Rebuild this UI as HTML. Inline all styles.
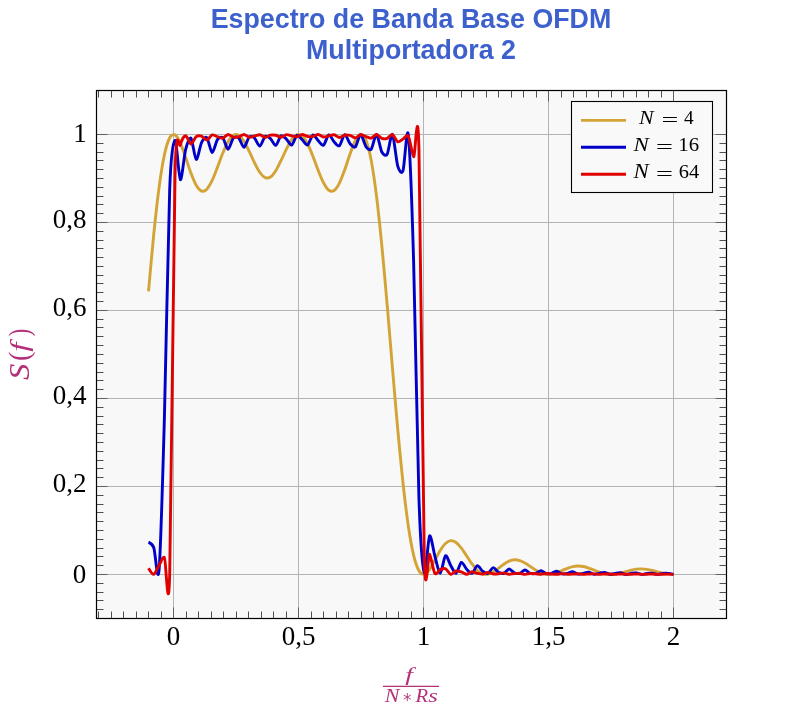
<!DOCTYPE html>
<html><head><meta charset="utf-8"><style>
html,body{margin:0;padding:0;background:#fff;width:794px;height:711px;overflow:hidden;}
svg{display:block;will-change:transform;}
</style></head><body>
<svg width="794" height="711" viewBox="0 0 794 711">
<rect x="96.5" y="90.5" width="630.0" height="528.0" fill="#f8f8f8"/>
<path d="M173.50,90.5V618.5M298.50,90.5V618.5M423.50,90.5V618.5M548.50,90.5V618.5M673.50,90.5V618.5M96.5,574.5H726.5M96.5,486.5H726.5M96.5,398.5H726.5M96.5,310.5H726.5M96.5,222.5H726.5M96.5,134.5H726.5" stroke="#b4b4b4" stroke-width="1" fill="none"/>
<path d="M98.50,618.5v-7.0M98.50,90.5v7.0M111.50,618.5v-7.0M111.50,90.5v7.0M123.50,618.5v-7.0M123.50,90.5v7.0M136.50,618.5v-7.0M136.50,90.5v7.0M148.50,618.5v-7.0M148.50,90.5v7.0M161.50,618.5v-7.0M161.50,90.5v7.0M186.50,618.5v-7.0M186.50,90.5v7.0M198.50,618.5v-7.0M198.50,90.5v7.0M211.50,618.5v-7.0M211.50,90.5v7.0M223.50,618.5v-7.0M223.50,90.5v7.0M236.50,618.5v-7.0M236.50,90.5v7.0M248.50,618.5v-7.0M248.50,90.5v7.0M261.50,618.5v-7.0M261.50,90.5v7.0M273.50,618.5v-7.0M273.50,90.5v7.0M286.50,618.5v-7.0M286.50,90.5v7.0M311.50,618.5v-7.0M311.50,90.5v7.0M323.50,618.5v-7.0M323.50,90.5v7.0M336.50,618.5v-7.0M336.50,90.5v7.0M348.50,618.5v-7.0M348.50,90.5v7.0M361.50,618.5v-7.0M361.50,90.5v7.0M373.50,618.5v-7.0M373.50,90.5v7.0M386.50,618.5v-7.0M386.50,90.5v7.0M398.50,618.5v-7.0M398.50,90.5v7.0M411.50,618.5v-7.0M411.50,90.5v7.0M436.50,618.5v-7.0M436.50,90.5v7.0M448.50,618.5v-7.0M448.50,90.5v7.0M461.50,618.5v-7.0M461.50,90.5v7.0M473.50,618.5v-7.0M473.50,90.5v7.0M486.50,618.5v-7.0M486.50,90.5v7.0M498.50,618.5v-7.0M498.50,90.5v7.0M511.50,618.5v-7.0M511.50,90.5v7.0M523.50,618.5v-7.0M523.50,90.5v7.0M536.50,618.5v-7.0M536.50,90.5v7.0M561.50,618.5v-7.0M561.50,90.5v7.0M573.50,618.5v-7.0M573.50,90.5v7.0M586.50,618.5v-7.0M586.50,90.5v7.0M598.50,618.5v-7.0M598.50,90.5v7.0M611.50,618.5v-7.0M611.50,90.5v7.0M623.50,618.5v-7.0M623.50,90.5v7.0M636.50,618.5v-7.0M636.50,90.5v7.0M648.50,618.5v-7.0M648.50,90.5v7.0M661.50,618.5v-7.0M661.50,90.5v7.0M96.5,609.50h7.0M726.5,609.50h-7.0M96.5,600.50h7.0M726.5,600.50h-7.0M96.5,592.50h7.0M726.5,592.50h-7.0M96.5,583.50h7.0M726.5,583.50h-7.0M96.5,565.50h7.0M726.5,565.50h-7.0M96.5,556.50h7.0M726.5,556.50h-7.0M96.5,548.50h7.0M726.5,548.50h-7.0M96.5,539.50h7.0M726.5,539.50h-7.0M96.5,530.50h7.0M726.5,530.50h-7.0M96.5,521.50h7.0M726.5,521.50h-7.0M96.5,512.50h7.0M726.5,512.50h-7.0M96.5,504.50h7.0M726.5,504.50h-7.0M96.5,495.50h7.0M726.5,495.50h-7.0M96.5,477.50h7.0M726.5,477.50h-7.0M96.5,468.50h7.0M726.5,468.50h-7.0M96.5,460.50h7.0M726.5,460.50h-7.0M96.5,451.50h7.0M726.5,451.50h-7.0M96.5,442.50h7.0M726.5,442.50h-7.0M96.5,433.50h7.0M726.5,433.50h-7.0M96.5,424.50h7.0M726.5,424.50h-7.0M96.5,416.50h7.0M726.5,416.50h-7.0M96.5,407.50h7.0M726.5,407.50h-7.0M96.5,389.50h7.0M726.5,389.50h-7.0M96.5,380.50h7.0M726.5,380.50h-7.0M96.5,372.50h7.0M726.5,372.50h-7.0M96.5,363.50h7.0M726.5,363.50h-7.0M96.5,354.50h7.0M726.5,354.50h-7.0M96.5,345.50h7.0M726.5,345.50h-7.0M96.5,336.50h7.0M726.5,336.50h-7.0M96.5,327.50h7.0M726.5,327.50h-7.0M96.5,319.50h7.0M726.5,319.50h-7.0M96.5,301.50h7.0M726.5,301.50h-7.0M96.5,292.50h7.0M726.5,292.50h-7.0M96.5,283.50h7.0M726.5,283.50h-7.0M96.5,275.50h7.0M726.5,275.50h-7.0M96.5,266.50h7.0M726.5,266.50h-7.0M96.5,257.50h7.0M726.5,257.50h-7.0M96.5,248.50h7.0M726.5,248.50h-7.0M96.5,240.50h7.0M726.5,240.50h-7.0M96.5,231.50h7.0M726.5,231.50h-7.0M96.5,213.50h7.0M726.5,213.50h-7.0M96.5,204.50h7.0M726.5,204.50h-7.0M96.5,196.50h7.0M726.5,196.50h-7.0M96.5,187.50h7.0M726.5,187.50h-7.0M96.5,178.50h7.0M726.5,178.50h-7.0M96.5,169.50h7.0M726.5,169.50h-7.0M96.5,160.50h7.0M726.5,160.50h-7.0M96.5,152.50h7.0M726.5,152.50h-7.0M96.5,143.50h7.0M726.5,143.50h-7.0" stroke="#505050" stroke-width="1" fill="none"/>
<path d="M173.50,618.5v-11M173.50,90.5v11M298.50,618.5v-11M298.50,90.5v11M423.50,618.5v-11M423.50,90.5v11M548.50,618.5v-11M548.50,90.5v11M673.50,618.5v-11M673.50,90.5v11M96.5,574.5h11M726.5,574.5h-11M96.5,486.5h11M726.5,486.5h-11M96.5,398.5h11M726.5,398.5h-11M96.5,310.5h11M726.5,310.5h-11M96.5,222.5h11M726.5,222.5h-11M96.5,134.5h11M726.5,134.5h-11" stroke="#606060" stroke-width="1" fill="none"/>
<path d="M148.50,291.31C148.50,291.31 152.33,248.40 153.80,233.97C155.27,219.54 157.63,198.29 159.11,187.30C160.58,176.32 162.94,161.69 164.41,154.81C165.88,147.93 168.24,140.49 169.71,137.73C171.18,134.96 173.54,134.15 175.02,134.88C176.49,135.62 178.85,139.88 180.32,143.01C181.79,146.13 184.15,153.26 185.62,157.42C187.09,161.58 189.45,169.15 190.92,173.02C192.40,176.88 194.76,182.76 196.23,185.26C197.70,187.76 200.06,190.50 201.53,191.04C203.00,191.58 205.36,190.63 206.83,189.16C208.30,187.69 210.66,183.47 212.14,180.45C213.61,177.42 215.97,171.12 217.44,167.35C218.91,163.58 221.27,156.84 222.74,153.28C224.21,149.71 226.57,144.18 228.05,141.68C229.52,139.17 231.88,136.12 233.35,135.23C234.82,134.33 237.18,134.38 238.65,135.21C240.12,136.05 242.48,138.99 243.95,141.24C245.43,143.49 247.79,148.43 249.26,151.43C250.73,154.43 253.09,159.97 254.56,162.89C256.03,165.81 258.39,170.44 259.86,172.49C261.34,174.54 263.70,177.03 265.17,177.65C266.64,178.28 269.00,177.97 270.47,177.01C271.94,176.05 274.30,173.02 275.77,170.73C277.24,168.44 279.60,163.50 281.08,160.48C282.55,157.47 284.91,151.94 286.38,149.03C287.85,146.12 290.21,141.51 291.68,139.52C293.15,137.52 295.51,135.14 296.98,134.67C298.46,134.19 300.82,134.82 302.29,136.09C303.76,137.35 306.12,141.01 307.59,143.80C309.06,146.59 311.42,152.51 312.89,156.20C314.37,159.88 316.73,166.68 318.20,170.37C319.67,174.06 322.03,180.04 323.50,182.79C324.97,185.54 327.33,189.14 328.80,190.20C330.27,191.26 332.63,191.42 334.11,190.44C335.58,189.45 337.94,185.96 339.41,183.10C340.88,180.24 343.24,173.85 344.71,169.82C346.18,165.79 348.54,158.12 350.02,154.06C351.49,150.00 353.85,143.29 355.32,140.56C356.79,137.84 359.15,134.49 360.62,134.43C362.09,134.37 364.45,136.50 365.92,140.11C367.40,143.73 369.76,152.70 371.23,160.48C372.70,168.26 375.06,184.40 376.53,196.20C378.00,208.00 380.36,230.49 381.83,245.52C383.30,260.55 385.66,287.55 387.14,304.51C388.61,321.47 390.97,350.44 392.44,367.75C393.91,385.06 396.27,413.20 397.74,429.25C399.21,445.31 401.57,470.02 403.05,483.48C404.52,496.93 406.88,516.27 408.35,526.24C409.82,536.21 412.18,549.16 413.65,555.33C415.12,561.50 417.48,568.08 418.95,570.71C420.43,573.34 422.79,574.48 424.26,574.31C425.73,574.14 428.09,571.44 429.56,569.50C431.03,567.55 433.39,562.92 434.86,560.30C436.34,557.68 438.70,552.94 440.17,550.60C441.64,548.27 444.00,544.84 445.47,543.45C446.94,542.07 449.30,540.76 450.77,540.63C452.24,540.49 454.60,541.44 456.08,542.49C457.55,543.53 459.91,546.29 461.38,548.17C462.85,550.04 465.21,553.78 466.68,555.97C468.15,558.15 470.51,561.93 471.98,563.91C473.46,565.89 475.82,568.86 477.29,570.23C478.76,571.60 481.12,573.22 482.59,573.77C484.06,574.33 486.42,574.46 487.89,574.22C489.37,573.98 491.73,572.86 493.20,572.03C494.67,571.21 497.03,569.35 498.50,568.27C499.97,567.19 502.33,565.23 503.80,564.24C505.27,563.25 507.63,561.76 509.11,561.15C510.58,560.54 512.94,559.91 514.41,559.82C515.88,559.73 518.24,560.09 519.71,560.53C521.18,560.96 523.54,562.15 525.02,562.97C526.49,563.79 528.85,565.46 530.32,566.44C531.79,567.42 534.15,569.12 535.62,570.01C537.09,570.89 539.45,572.22 540.92,572.81C542.40,573.40 544.76,574.07 546.23,574.26C547.70,574.44 550.06,574.37 551.53,574.16C553.00,573.95 555.36,573.24 556.83,572.74C558.30,572.24 560.66,571.17 562.14,570.55C563.61,569.94 565.97,568.84 567.44,568.29C568.91,567.75 571.27,566.94 572.74,566.62C574.21,566.30 576.57,566.00 578.05,565.98C579.52,565.97 581.88,566.23 583.35,566.51C584.82,566.80 587.18,567.53 588.65,568.03C590.12,568.52 592.48,569.52 593.95,570.09C595.43,570.66 597.79,571.65 599.26,572.15C600.73,572.65 603.09,573.38 604.56,573.69C606.03,574.00 608.39,574.32 609.86,574.38C611.34,574.44 613.70,574.30 615.17,574.12C616.64,573.94 619.00,573.42 620.47,573.07C621.94,572.73 624.30,572.01 625.77,571.61C627.24,571.20 629.60,570.51 631.08,570.17C632.55,569.83 634.91,569.34 636.38,569.16C637.85,568.98 640.21,568.84 641.68,568.86C643.15,568.89 645.51,569.11 646.98,569.33C648.46,569.54 650.82,570.07 652.29,570.41C653.76,570.75 656.12,571.42 657.59,571.80C659.06,572.18 661.42,572.82 662.89,573.13C664.37,573.45 666.73,573.89 668.20,574.07C669.67,574.25 673.50,574.40 673.50,574.40" stroke="#d4a336" stroke-width="2.9" fill="none" stroke-linejoin="round"/>
<path d="M148.50,542.14C148.50,542.14 152.33,543.87 153.80,547.68C155.27,551.49 157.63,587.66 159.11,569.59C160.58,551.53 162.94,470.29 164.41,417.47C165.88,364.64 168.24,227.31 169.71,188.87C171.18,150.43 173.54,141.71 175.02,140.43C176.49,139.15 178.85,178.38 180.32,179.66C181.79,180.95 184.15,155.45 185.62,149.69C187.09,143.93 189.45,136.80 190.92,138.15C192.40,139.49 194.76,158.80 196.23,159.41C197.70,160.02 200.06,145.55 201.53,142.55C203.00,139.54 205.36,136.33 206.83,137.72C208.30,139.11 210.66,152.28 212.14,152.55C213.61,152.81 215.97,141.69 217.44,139.63C218.91,137.57 221.27,136.38 222.74,137.71C224.21,139.04 226.57,149.17 228.05,149.21C229.52,149.26 231.88,139.61 233.35,138.03C234.82,136.46 237.18,136.58 238.65,137.87C240.12,139.16 242.48,147.43 243.95,147.31C245.43,147.20 247.79,138.29 249.26,137.02C250.73,135.75 253.09,136.89 254.56,138.16C256.03,139.43 258.39,146.41 259.86,146.16C261.34,145.90 263.70,137.38 265.17,136.32C266.64,135.27 269.00,137.29 270.47,138.56C271.94,139.82 274.30,145.84 275.77,145.46C277.24,145.08 279.60,136.69 281.08,135.80C282.55,134.92 284.91,137.79 286.38,139.07C287.85,140.36 290.21,145.60 291.68,145.09C293.15,144.58 295.51,136.15 296.98,135.40C298.46,134.66 300.82,138.41 302.29,139.75C303.76,141.08 306.12,145.65 307.59,145.00C309.06,144.36 311.42,135.70 312.89,135.09C314.37,134.48 316.73,139.23 318.20,140.64C319.67,142.04 322.03,146.01 323.50,145.21C324.97,144.40 327.33,135.30 328.80,134.84C330.27,134.37 332.63,140.34 334.11,141.86C335.58,143.38 337.94,146.78 339.41,145.78C340.88,144.78 343.24,134.94 344.71,134.64C346.18,134.35 348.54,141.95 350.02,143.65C351.49,145.36 353.85,148.20 355.32,146.93C356.79,145.66 359.15,134.55 360.62,134.49C362.09,134.44 364.45,144.50 365.92,146.54C367.40,148.58 369.76,150.87 371.23,149.18C372.70,147.50 375.06,134.02 376.53,134.41C378.00,134.80 380.36,149.25 381.83,151.99C383.30,154.74 385.66,156.62 387.14,154.19C388.61,151.76 390.97,132.79 392.44,134.45C393.91,136.11 396.27,161.15 397.74,166.15C399.21,171.16 401.57,174.83 403.05,170.53C404.52,166.22 406.88,122.34 408.35,135.12C409.82,147.90 412.18,212.21 413.65,262.63C415.12,313.05 417.48,455.45 418.95,498.50C420.43,541.55 422.79,567.69 424.26,572.89C425.73,578.09 428.09,538.31 429.56,535.98C431.03,533.65 433.39,550.91 434.86,556.09C436.34,561.27 438.70,573.37 440.17,573.32C441.64,573.27 444.00,556.79 445.47,555.72C446.94,554.65 449.30,563.15 450.77,565.60C452.24,568.06 454.60,573.83 456.08,573.38C457.55,572.93 459.91,562.93 461.38,562.36C462.85,561.79 465.21,567.73 466.68,569.26C468.15,570.79 470.51,573.88 471.98,573.39C473.46,572.89 475.82,565.99 477.29,565.68C478.76,565.36 481.12,570.06 482.59,571.13C484.06,572.19 486.42,573.85 487.89,573.37C489.37,572.89 491.73,567.83 493.20,567.67C494.67,567.51 497.03,571.44 498.50,572.23C499.97,573.01 502.33,573.80 503.80,573.35C505.27,572.91 507.63,569.07 509.11,569.01C510.58,568.95 512.94,572.33 514.41,572.93C515.88,573.53 518.24,573.74 519.71,573.34C521.18,572.93 523.54,569.97 525.02,569.98C526.49,569.99 528.85,572.93 530.32,573.39C531.79,573.86 534.15,573.69 535.62,573.32C537.09,572.95 539.45,570.65 540.92,570.71C542.40,570.76 544.76,573.36 546.23,573.72C547.70,574.08 550.06,573.65 551.53,573.31C553.00,572.98 555.36,571.20 556.83,571.28C558.30,571.37 560.66,573.67 562.14,573.95C563.61,574.23 565.97,573.61 567.44,573.31C568.91,573.01 571.27,571.64 572.74,571.75C574.21,571.86 576.57,573.89 578.05,574.11C579.52,574.32 581.88,573.58 583.35,573.31C584.82,573.04 587.18,572.01 588.65,572.13C590.12,572.26 592.48,574.05 593.95,574.22C595.43,574.38 597.79,573.56 599.26,573.32C600.73,573.07 603.09,572.32 604.56,572.46C606.03,572.59 608.39,574.18 609.86,574.30C611.34,574.42 613.70,573.55 615.17,573.33C616.64,573.11 619.00,572.59 620.47,572.73C621.94,572.87 624.30,574.26 625.77,574.35C627.24,574.43 629.60,573.53 631.08,573.34C632.55,573.15 634.91,572.82 636.38,572.97C637.85,573.11 640.21,574.32 641.68,574.38C643.15,574.43 645.51,573.53 646.98,573.36C648.46,573.20 650.82,573.03 652.29,573.17C653.76,573.31 656.12,574.37 657.59,574.40C659.06,574.42 661.42,573.53 662.89,573.39C664.37,573.24 666.73,573.21 668.20,573.35C669.67,573.49 673.50,574.40 673.50,574.40" stroke="#0000c8" stroke-width="2.9" fill="none" stroke-linejoin="round"/>
<path d="M148.50,568.16C148.50,568.16 152.33,574.66 153.80,574.24C155.27,573.82 157.63,567.49 159.11,565.16C160.58,562.82 162.94,556.23 164.41,557.41C165.88,558.60 168.24,626.67 169.71,573.71C171.18,520.76 173.54,235.28 175.02,175.77C176.49,116.26 178.85,150.38 180.32,144.82C181.79,139.27 184.15,135.84 185.62,135.72C187.09,135.60 189.45,143.83 190.92,143.96C192.40,144.10 194.76,137.76 196.23,136.68C197.70,135.61 200.06,135.74 201.53,136.21C203.00,136.68 205.36,140.25 206.83,140.08C208.30,139.91 210.66,135.45 212.14,134.98C213.61,134.51 215.97,136.25 217.44,136.70C218.91,137.15 221.27,138.53 222.74,138.22C224.21,137.91 226.57,134.61 228.05,134.45C229.52,134.29 231.88,136.74 233.35,137.08C234.82,137.43 237.18,137.31 238.65,136.94C240.12,136.57 242.48,134.39 243.95,134.44C245.43,134.49 247.79,137.09 249.26,137.30C250.73,137.51 253.09,136.31 254.56,135.96C256.03,135.60 258.39,134.55 259.86,134.74C261.34,134.94 263.70,137.28 265.17,137.34C266.64,137.40 269.00,135.49 270.47,135.20C271.94,134.91 274.30,134.96 275.77,135.24C277.24,135.51 279.60,137.26 281.08,137.19C282.55,137.11 284.91,134.87 286.38,134.68C287.85,134.50 290.21,135.53 291.68,135.84C293.15,136.14 295.51,137.05 296.98,136.85C298.46,136.66 300.82,134.48 302.29,134.43C303.76,134.37 306.12,136.19 307.59,136.46C309.06,136.73 311.42,136.66 312.89,136.38C314.37,136.10 316.73,134.36 318.20,134.45C319.67,134.54 322.03,136.85 323.50,137.04C324.97,137.23 327.33,136.13 328.80,135.82C330.27,135.51 332.63,134.55 334.11,134.78C335.58,135.02 337.94,137.47 339.41,137.53C340.88,137.60 343.24,135.53 344.71,135.25C346.18,134.96 348.54,135.09 350.02,135.46C351.49,135.83 353.85,138.00 355.32,137.90C356.79,137.80 359.15,134.93 360.62,134.74C362.09,134.55 364.45,136.07 365.92,136.55C367.40,137.02 369.76,138.46 371.23,138.16C372.70,137.87 375.06,134.41 376.53,134.43C378.00,134.45 380.36,137.76 381.83,138.31C383.30,138.86 385.66,138.92 387.14,138.40C388.61,137.87 390.97,134.09 392.44,134.56C393.91,135.03 396.27,141.17 397.74,141.79C399.21,142.41 401.57,139.79 403.05,139.03C404.52,138.27 406.88,133.87 408.35,136.31C409.82,138.76 412.18,154.92 413.65,156.66C415.12,158.40 417.48,93.43 418.95,148.84C420.43,204.24 422.79,499.73 424.26,555.99C425.73,612.25 428.09,551.86 429.56,554.28C431.03,556.70 433.39,571.29 434.86,573.42C436.34,575.55 438.70,570.26 440.17,569.61C441.64,568.96 444.00,568.07 445.47,568.73C446.94,569.39 449.30,574.07 450.77,574.38C452.24,574.70 454.60,571.35 456.08,571.01C457.55,570.66 459.91,571.44 461.38,571.90C462.85,572.36 465.21,574.33 466.68,574.31C468.15,574.28 470.51,571.88 471.98,571.74C473.46,571.60 475.82,572.96 477.29,573.28C478.76,573.60 481.12,574.18 482.59,574.05C484.06,573.92 486.42,572.34 487.89,572.33C489.37,572.32 491.73,573.77 493.20,573.97C494.67,574.18 497.03,573.96 498.50,573.80C499.97,573.65 502.33,572.79 503.80,572.86C505.27,572.93 507.63,574.19 509.11,574.30C510.58,574.40 512.94,573.75 514.41,573.62C515.88,573.48 518.24,573.22 519.71,573.33C521.18,573.44 523.54,574.37 525.02,574.40C526.49,574.43 528.85,573.62 530.32,573.53C531.79,573.43 534.15,573.61 535.62,573.72C537.09,573.84 539.45,574.39 540.92,574.36C542.40,574.34 544.76,573.57 546.23,573.53C547.70,573.48 550.06,573.93 551.53,574.03C553.00,574.13 555.36,574.32 556.83,574.26C558.30,574.20 560.66,573.61 562.14,573.61C563.61,573.61 565.97,574.17 567.44,574.24C568.91,574.32 571.27,574.21 572.74,574.14C574.21,574.07 576.57,573.71 578.05,573.74C579.52,573.77 581.88,574.32 583.35,574.36C584.82,574.40 587.18,574.09 588.65,574.03C590.12,573.97 592.48,573.85 593.95,573.91C595.43,573.96 597.79,574.39 599.26,574.40C600.73,574.41 603.09,574.01 604.56,573.96C606.03,573.92 608.39,574.01 609.86,574.07C611.34,574.13 613.70,574.40 615.17,574.38C616.64,574.36 619.00,573.96 620.47,573.94C621.94,573.92 624.30,574.16 625.77,574.21C627.24,574.26 629.60,574.35 631.08,574.32C632.55,574.28 634.91,573.96 636.38,573.96C637.85,573.96 640.21,574.28 641.68,574.32C643.15,574.36 645.51,574.29 646.98,574.24C648.46,574.20 650.82,574.01 652.29,574.03C653.76,574.04 656.12,574.36 657.59,574.38C659.06,574.40 661.42,574.21 662.89,574.18C664.37,574.14 666.73,574.08 668.20,574.11C669.67,574.14 673.50,574.40 673.50,574.40" stroke="#e00000" stroke-width="2.9" fill="none" stroke-linejoin="round"/>
<rect x="96.5" y="90.5" width="630.0" height="528.0" fill="none" stroke="#000" stroke-width="1.2"/>
<rect x="571.5" y="101.5" width="141.0" height="91.0" fill="#f9f9f9" stroke="#000" stroke-width="1.1"/>
<path d="M581,120.4H626" stroke="#d4a336" stroke-width="2.9"/>
<text transform="translate(639.06,124.10) scale(1.106,1)" font-family="Liberation Serif" font-style="italic" font-weight="normal" font-size="19.85" fill="#000">N</text>
<path d="M663.0,117.5H676.9M663.0,121.5H676.9" stroke="#000" stroke-width="1.1"/>
<text x="684.11" y="124.10" font-family="Liberation Serif" font-style="normal" font-weight="normal" font-size="19.32" fill="#000">4</text>
<path d="M581,147.2H626" stroke="#0000c8" stroke-width="2.9"/>
<text transform="translate(633.47,150.90) scale(1.155,1)" font-family="Liberation Serif" font-style="italic" font-weight="normal" font-size="19.85" fill="#000">N</text>
<path d="M657.4,144.5H671.5M657.4,148.5H671.5" stroke="#000" stroke-width="1.1"/>
<text transform="translate(678.28,150.71) scale(1.104,1)" font-family="Liberation Serif" font-style="normal" font-weight="normal" font-size="18.88" fill="#000">16</text>
<path d="M581,174.2H626" stroke="#e00000" stroke-width="2.9"/>
<text transform="translate(633.47,178.10) scale(1.146,1)" font-family="Liberation Serif" font-style="italic" font-weight="normal" font-size="20.00" fill="#000">N</text>
<path d="M657.4,171.5H671.5M657.4,175.5H671.5" stroke="#000" stroke-width="1.1"/>
<text transform="translate(678.73,177.91) scale(1.076,1)" font-family="Liberation Serif" font-style="normal" font-weight="normal" font-size="19.03" fill="#000">64</text>
<text x="173.50" y="645" text-anchor="middle" font-family="Liberation Serif" font-size="27">0</text>
<text x="298.50" y="645" text-anchor="middle" font-family="Liberation Serif" font-size="27">0,5</text>
<text x="423.50" y="645" text-anchor="middle" font-family="Liberation Serif" font-size="27">1</text>
<text x="548.50" y="645" text-anchor="middle" font-family="Liberation Serif" font-size="27">1,5</text>
<text x="673.50" y="645" text-anchor="middle" font-family="Liberation Serif" font-size="27">2</text>
<text x="86.3" y="583.10" text-anchor="end" font-family="Liberation Serif" font-size="27">0</text>
<text x="86.5" y="492.40" text-anchor="end" font-family="Liberation Serif" font-size="27">0,2</text>
<text x="86.5" y="404.40" text-anchor="end" font-family="Liberation Serif" font-size="27">0,4</text>
<text x="86.5" y="316.40" text-anchor="end" font-family="Liberation Serif" font-size="27">0,6</text>
<text x="86.5" y="228.40" text-anchor="end" font-family="Liberation Serif" font-size="27">0,8</text>
<text x="86.7" y="141.70" text-anchor="end" font-family="Liberation Serif" font-size="27">1</text>
<text x="411" y="27.6" font-family="Liberation Sans" font-weight="bold" font-size="26.8" fill="#3c60cc" text-anchor="middle">Espectro de Banda Base OFDM</text>
<text x="411" y="58.5" font-family="Liberation Sans" font-weight="bold" font-size="26.8" fill="#3c60cc" text-anchor="middle">Multiportadora 2</text>
<g transform="rotate(-90)"><text transform="translate(-380.11,28.71) scale(1.142,1)" font-family="Liberation Serif" font-style="italic" font-weight="normal" font-size="28.70" fill="#b3307a">S</text><text transform="translate(-361.07,28.67) scale(0.963,1)" font-family="Liberation Serif" font-style="normal" font-weight="normal" font-size="29.31" fill="#b3307a">(</text><text transform="translate(-351.71,27.77) scale(1.323,1)" font-family="Liberation Serif" font-style="italic" font-weight="normal" font-size="25.07" fill="#b3307a">f</text><text transform="translate(-336.23,28.67) scale(0.768,1)" font-family="Liberation Serif" font-style="normal" font-weight="normal" font-size="29.31" fill="#b3307a">)</text></g>
<text transform="translate(405.25,680.73) scale(1.518,1)" font-family="Liberation Serif" font-style="italic" font-weight="normal" font-size="18.20" fill="#b3307a">f</text>
<path d="M382.9,686.4H439.1" stroke="#b3307a" stroke-width="1.1"/>
<text transform="translate(384.77,702.00) scale(1.121,1)" font-family="Liberation Serif" font-style="italic" font-weight="normal" font-size="19.69" fill="#b3307a">N</text>
<path d="M407.30,693.40L407.30,700.80M404.10,695.25L410.50,698.95M404.10,698.95L410.50,695.25" stroke="#b3307a" stroke-width="0.9" stroke-linecap="round"/>
<text transform="translate(415.40,702.00) scale(1.049,1)" font-family="Liberation Serif" font-style="italic" font-weight="normal" font-size="19.69" fill="#b3307a">R</text>
<text transform="translate(428.19,701.81) scale(1.329,1)" font-family="Liberation Serif" font-style="italic" font-weight="normal" font-size="18.54" fill="#b3307a">s</text>
</svg>
</body></html>
